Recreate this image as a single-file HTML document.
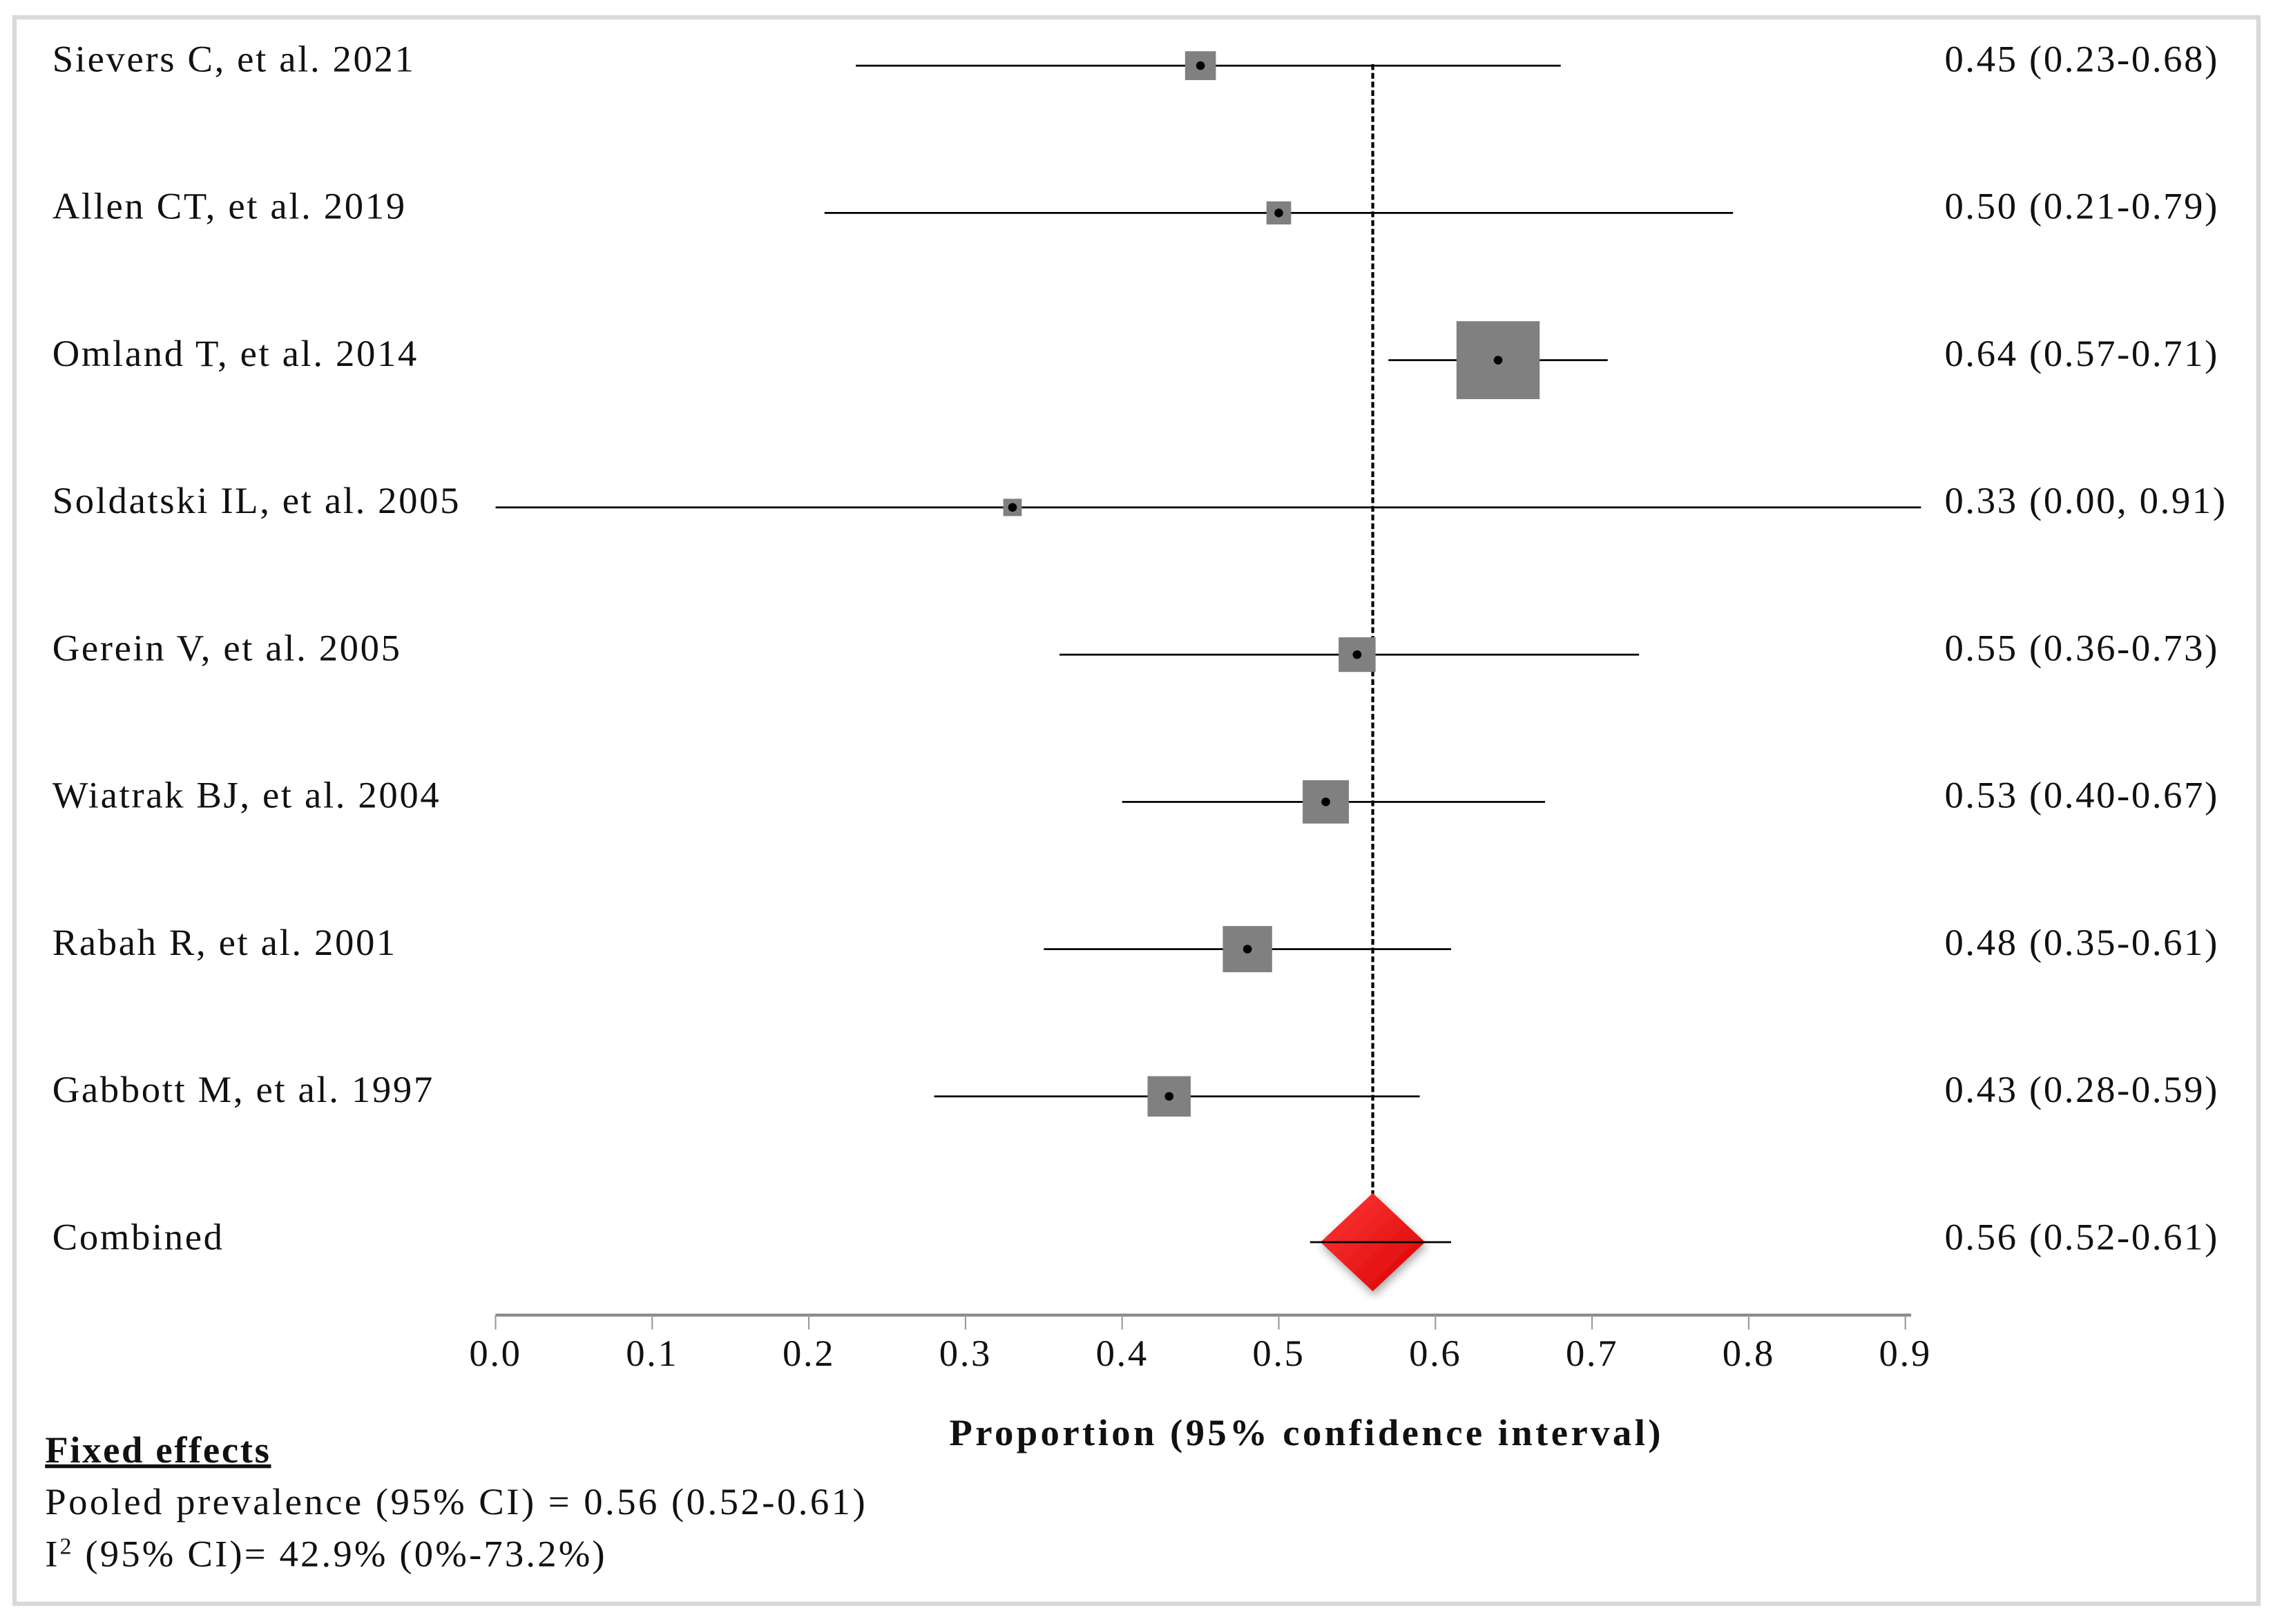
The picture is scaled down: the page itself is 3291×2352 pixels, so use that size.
<!DOCTYPE html>
<html><head><meta charset="utf-8"><style>
html,body{margin:0;padding:0;background:#fff;}
svg{display:block;}
text{font-family:"Liberation Serif",serif;fill:#111;letter-spacing:1.25px;}
</style></head><body>
<svg id="chart" width="3291" height="2352" viewBox="0 0 1564 1125" preserveAspectRatio="none" xmlns="http://www.w3.org/2000/svg">
<defs>
<linearGradient id="dg" x1="0" y1="0" x2="1" y2="1">
<stop offset="0" stop-color="#ff3b3b"/><stop offset="1" stop-color="#d80000"/>
</linearGradient>
<filter id="sh" x="-50%" y="-50%" width="200%" height="200%"><feDropShadow dx="1" dy="3" stdDeviation="3" flood-color="#000" flood-opacity="0.35"/></filter>
</defs>
<rect x="10" y="12" width="1544" height="1099" fill="#fff" stroke="#d9d9d9" stroke-width="3"/>
<g id="plot"></g>
<text x="899" y="1001" font-size="26" font-weight="bold" text-anchor="middle" style="letter-spacing:2.1px">Proportion (95% confidence interval)</text>
<text x="31" y="1013" font-size="26" font-weight="bold" text-decoration="underline">Fixed effects</text>
<text x="31" y="1049" font-size="26" style="letter-spacing:1.65px">Pooled prevalence (95% CI) = 0.56 (0.52-0.61)</text>
<text x="31" y="1085" font-size="26" style="letter-spacing:1.5px">I<tspan baseline-shift="super" font-size="16">2</tspan> (95% CI)= 42.9% (0%-73.2%)</text>
</svg>
<script>
const studies = ["Sievers C, et al. 2021","Allen CT, et al. 2019","Omland T, et al. 2014","Soldatski IL, et al. 2005","Gerein V, et al. 2005","Wiatrak BJ, et al. 2004","Rabah R, et al. 2001","Gabbott M, et al. 1997"];
const estimates = [0.45,0.50,0.64,0.33,0.55,0.53,0.48,0.43];
const lowers = [0.23,0.21,0.57,0.00,0.36,0.40,0.35,0.28];
const uppers = [0.68,0.79,0.71,0.91,0.73,0.67,0.61,0.59];
const weights = [20,16,54,12,24,30,32,28];
const valueLabels = ["0.45 (0.23-0.68)","0.50 (0.21-0.79)","0.64 (0.57-0.71)","0.33 (0.00, 0.91)","0.55 (0.36-0.73)","0.53 (0.40-0.67)","0.48 (0.35-0.61)","0.43 (0.28-0.59)"];
const pooled = [0.56,0.52,0.61];
const pooledLabel = "0.56 (0.52-0.61)";
const ticks = [0,0.1,0.2,0.3,0.4,0.5,0.6,0.7,0.8,0.9];
const tickLabels = ["0.0","0.1","0.2","0.3","0.4","0.5","0.6","0.7","0.8","0.9"];

const NS="http://www.w3.org/2000/svg";
const g=document.getElementById('plot');
function x(v){return 341+v*1077.8;}
function y(i){return 44.5+i*102;}
function mk(tag,attrs,parent){const e=document.createElementNS(NS,tag);for(const k in attrs)e.setAttribute(k,attrs[k]);(parent||g).appendChild(e);return e;}

const ax=mk('line',{x1:x(0),x2:x(0.9)+4,y1:911,y2:911,stroke:'#888','stroke-width':2});


ticks.forEach((t,i)=>{
  const tk=mk('line',{x1:x(t),x2:x(t),y1:911,y2:921,stroke:'#999','stroke-width':1});
  
  
  const tl=mk('text',{x:x(t),y:946,'font-size':26,'text-anchor':'middle'});
  tl.textContent=tickLabels[i];
  
  
});

const rl=mk('line',{x1:x(pooled[0]),x2:x(pooled[0]),y1:y(0),y2:y(studies.length)+30,stroke:'#000','stroke-width':2,'stroke-dasharray':'4,2'});



studies.forEach((s,i)=>{
  const cy=y(i);
  const lb=mk('text',{x:36,y:cy+5,'font-size':26});
  lb.textContent=s;
  
  
  const ci=mk('line',{x1:x(lowers[i]),x2:x(uppers[i]),y1:cy+1,y2:cy+1,stroke:'#000','stroke-width':1.3});
  
  
  const w=weights[i];
  const sq=mk('rect',{x:x(estimates[i])-w*0.53,y:cy+1-w/2,width:w*1.06,height:w,fill:'#808080'});
  
  
  const pt=mk('circle',{cx:x(estimates[i]),cy:cy+1,r:3,fill:'#000'});
  
  
  const vl=mk('text',{x:1338,y:cy+5,'font-size':26});
  vl.textContent=valueLabels[i];
  
  
});

const cy=y(studies.length);
const cl=mk('text',{x:36,y:cy+5,'font-size':26});
cl.textContent="Combined";


const cx=x(pooled[0]);
const dm=mk('polygon',{points:`${cx},${cy-34} ${cx+36},${cy} ${cx},${cy+34} ${cx-36},${cy}`,fill:'url(#dg)',filter:'url(#sh)'});


const pl=mk('line',{x1:x(pooled[1]),x2:x(pooled[2]),y1:cy,y2:cy,stroke:'#000','stroke-width':1.3});


const pv=mk('text',{x:1338,y:cy+5,'font-size':26});
pv.textContent=pooledLabel;


</script>
</body></html>
